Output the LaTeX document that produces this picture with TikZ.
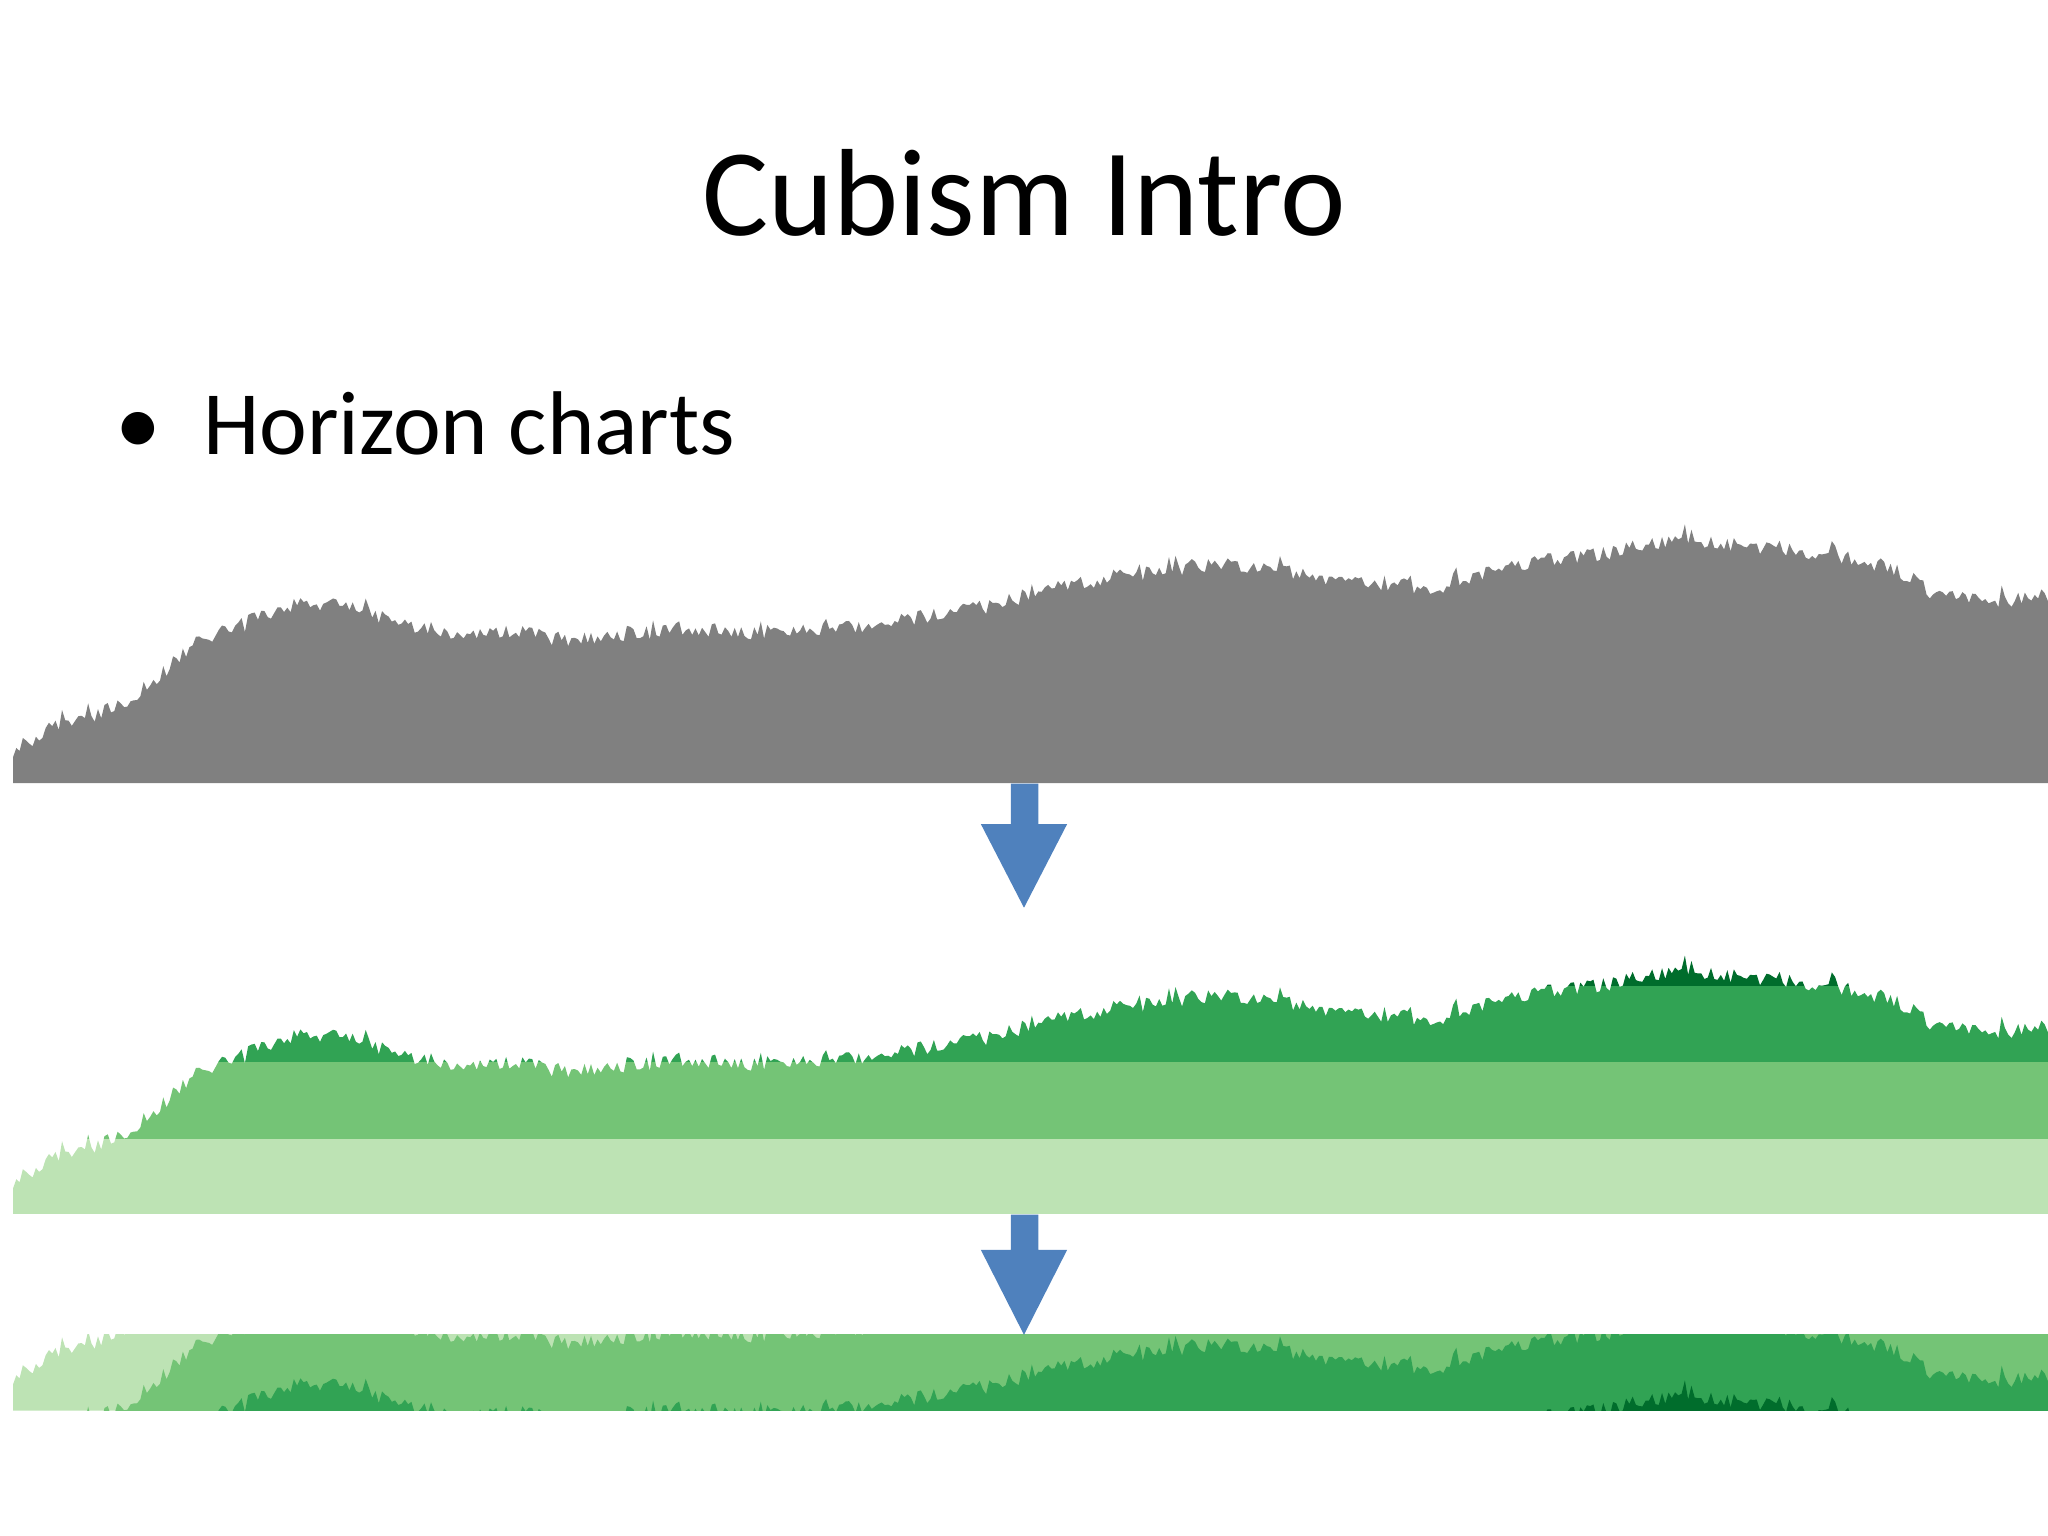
\documentclass[tikz,border=0pt]{standalone}
\usepackage{fontspec}
\setmainfont{Carlito}
\definecolor{gL}{HTML}{BDE3B4}
\definecolor{gM}{HTML}{74C476}
\definecolor{gD}{HTML}{31A354}
\definecolor{gX}{HTML}{006D2C}
\definecolor{arr}{HTML}{4F81BD}
\begin{document}
\begin{tikzpicture}[x=0.01cm,y=0.01cm,
  blockarrow/.style={fill=arr,draw=none}]
\useasboundingbox (0,0) rectangle (1568,1176);
\pgfmathsetseed{7}
\gdef\pts{}
\foreach \x/\h [remember=\x as \px (initially 10), remember=\h as \ph (initially 20)] in
 {20/30,40/42,70/52,100/65,125/85,150/110,180/118,200/128,230/138,270/135,310/122,350/115,400/116,430/110,455/112,520/118,600/115,660/120,700/126,750/134,800/148,850/158,900/164,940/168,1000/160,1040/152,1100/150,1150/166,1200/172,1250/180,1300/186,1390/176,1450/165,1480/145,1530/140,1568/142}{
  \pgfmathtruncatemacro\n{max(1,round((\x-\px)/2.5))}
  \foreach \k in {1,...,\n}{
    \pgfmathsetmacro\xx{\px+\k*(\x-\px)/\n}
    \pgfmathsetmacro\hh{\ph+(\h-\ph)*\k/\n+12*rnd-6+(rnd>0.88)*9*rnd}
    \xdef\pts{\pts -- (\xx,\hh)}
  }
}
\def\area{(10,0) -- (10,20) \pts -- (1568,0) -- cycle}
% title
\node[anchor=base,font=\fontsize{27}{32}\selectfont] (title) at (784,996) {Cubism Intro};
\node[anchor=base,font=\fontsize{20}{24}\selectfont] (bul) at (106,828) {•};
\node[anchor=base west,font=\fontsize{19.7}{24}\selectfont] (item) at (143,828) {Horizon charts};
% gray chart
\begin{scope}[yshift=5.76cm]
\fill[gray] \area;
\end{scope}
% banded chart
\begin{scope}[yshift=2.46cm]
\clip \area;
\fill[gL] (0,0) rectangle (1568,58);
\fill[gM] (0,58) rectangle (1568,117);
\fill[gD] (0,117) rectangle (1568,175);
\fill[gX] (0,175) rectangle (1568,260);
\end{scope}
% horizon chart
\begin{scope}
\clip (0,96) rectangle (1568,154);
\begin{scope}[yshift=0.96cm]\fill[gL] \area;\end{scope}
\begin{scope}[yshift=0.38cm]\fill[gM] \area;\end{scope}
\begin{scope}[yshift=-0.21cm]\fill[gD] \area;\end{scope}
\begin{scope}[yshift=-0.79cm]\fill[gX] \area;\end{scope}
\end{scope}
% arrows
\fill[blockarrow] (774,576) -- (795,576) -- (795,545) -- (817,545) -- (784,481) -- (751,545) -- (774,545) -- cycle;
\fill[blockarrow] (774,246) -- (795,246) -- (795,219) -- (817,219) -- (784,154) -- (751,219) -- (774,219) -- cycle;
\end{tikzpicture}
\end{document}
